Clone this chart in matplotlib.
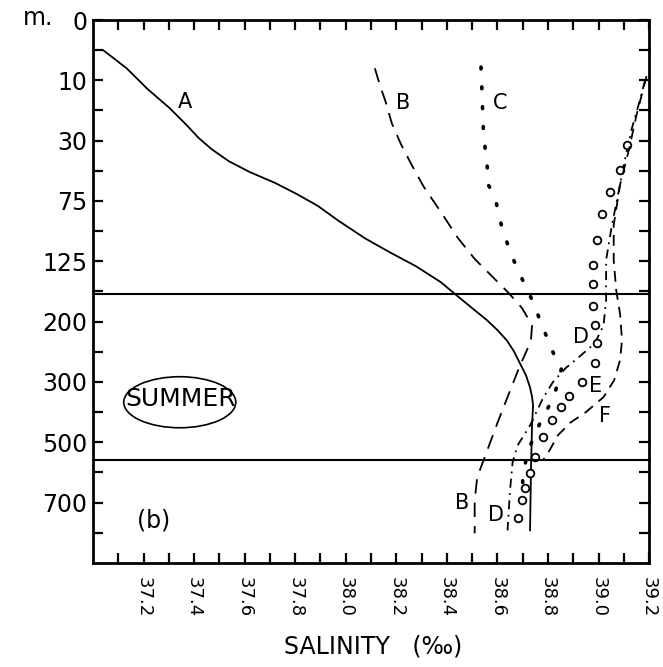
import numpy as np
import matplotlib
matplotlib.use("Agg")
import matplotlib.pyplot as plt
from matplotlib.patches import Ellipse

# depth axis is drawn with even spacing between the labelled depths
depth_ticks = [0, 10, 30, 75, 125, 200, 300, 500, 700]
depth_labels = ["0", "10", "30", "75", "125", "200", "300", "500", "700"]
depth_knots = [-1000, 0, 10, 30, 75, 125, 200, 300, 500, 700, 900, 10000]
idx_knots = [-100, 0, 1, 2, 3, 4, 5, 6, 7, 8, 9, 55.5]

sal_ticks = [37.2, 37.4, 37.6, 37.8, 38.0, 38.2, 38.4, 38.6, 38.8, 39.0, 39.2]

# curve A (solid)
sal_A = [37.04, 37.133, 37.216, 37.303, 37.37, 37.418, 37.469, 37.537,
         37.62, 37.72, 37.806, 37.889, 37.972, 38.075, 38.174, 38.277, 38.376,
         38.428, 38.49, 38.558, 38.60, 38.637, 38.665, 38.689, 38.713, 38.729,
         38.737, 38.741, 38.737, 38.733, 38.729]
dep_A = [5.0, 8.0, 12.9, 19.2, 24.8, 29.1, 36.3, 45.3,
         53.4, 61.5, 69.8, 79, 91.5, 105.8, 117.5, 131, 150.9,
         164.6, 180.6, 198, 214, 231, 249, 269, 289, 318,
         350, 377, 443, 582, 792]

# curve B (long dashes)
sal_B = [38.115, 38.135, 38.158, 38.182, 38.218, 38.261, 38.309, 38.376, 38.444,
         38.51, 38.578, 38.645, 38.697, 38.737, 38.733, 38.717, 38.69, 38.64,
         38.60, 38.56, 38.52, 38.51, 38.51]
dep_B = [8.0, 11.6, 17.2, 24.2, 32.5, 48.2, 64.6, 84, 105.8,
         123, 143.4, 164.5, 183, 206, 229, 247, 272, 350,
         436, 526, 616, 692, 802]

# curve C (dots)
sal_C = [38.535, 38.54, 38.545, 38.56, 38.56, 38.59, 38.62, 38.66, 38.705,
         38.737, 38.784, 38.828, 38.855, 38.824, 38.768, 38.717, 38.70, 38.70]
dep_C = [7.8, 16.5, 28, 50, 61.6, 72, 99, 122, 152,
         173, 214, 259, 275, 348, 437, 536, 626, 758]

# curve D (dash-dot)
sal_D = [39.184, 39.164, 39.13, 39.10, 39.077, 39.053, 39.03, 39.03, 39.02,
         38.985, 38.93, 38.87, 38.82, 38.78, 38.73, 38.68, 38.66, 38.65, 38.64]
dep_D = [10, 16.5, 26.5, 48, 70.6, 95, 124, 173, 206,
         236, 256, 277, 300, 354, 443, 510, 566, 658, 792]

# curve E (open circles)
sal_E = [39.113, 39.085, 39.045, 39.014, 38.994, 38.978, 38.978, 38.98, 38.986,
         38.994, 38.986, 38.934, 38.883, 38.85, 38.816, 38.78, 38.748, 38.729,
         38.71, 38.697, 38.68]
dep_E = [33, 52, 68, 86, 107, 130, 153, 180, 206,
         236, 269, 300, 348, 384, 426, 484, 550, 602,
         652, 692, 752]

# curve F (dashes)
sal_F = [39.19, 39.15, 39.12, 39.085, 39.06, 39.06, 39.07, 39.085, 39.093,
         39.085, 39.062, 39.02, 38.95, 38.89, 38.84, 38.80, 38.78]
dep_F = [9.3, 21.6, 37, 63, 95, 124, 161, 190, 231,
         264, 297, 350, 400, 434, 476, 536, 560]

layer_lines = [166, 560]


def fwd(d):
    return np.interp(d, depth_knots, idx_knots)


def inv(i):
    return np.interp(i, idx_knots, depth_knots)


fig = plt.figure(figsize=(6.63, 6.67), dpi=100)
ax = fig.add_axes([0.1403, 0.156, 0.8387, 0.814])
ax.set_yscale("function", functions=(fwd, inv))
ax.set_xlim(37.0, 39.2)
ax.set_ylim(900, 0)

lw = 1.3
ax.plot(sal_A, dep_A, color="black", lw=lw)
ax.plot(sal_B, dep_B, color="black", lw=lw, linestyle=(0, (8, 5)))
ax.plot(sal_C, dep_C, color="black", lw=2.6, linestyle=(0, (0.5, 5)),
        dash_capstyle="round")
ax.plot(sal_D, dep_D, color="black", lw=lw, linestyle=(0, (5, 3, 1, 3)))
ax.plot(sal_E, dep_E, linestyle="none", marker="o", ms=5.5, mfc="white",
        mec="black", mew=1.3)
ax.plot(sal_F, dep_F, color="black", lw=lw, linestyle=(0, (6, 4)))

for d in layer_lines:
    ax.axhline(d, color="black", lw=1.5)

# curve labels
lab = dict(fontsize=15, ha="center", va="center")
ax.text(37.363, 17.2, "A", **lab)
ax.text(38.225, 17.4, "B", **lab)
ax.text(38.61, 17.4, "C", **lab)
ax.text(38.93, 226, "D", **lab)
ax.text(38.99, 314, "E", **lab)
ax.text(39.025, 414, "F", **lab)
ax.text(38.46, 702, "B", **lab)
ax.text(38.594, 742, "D", **lab)
ax.text(37.24, 758, "(b)", fontsize=17, ha="center", va="center")

ax.text(0.158, 0.302, "SUMMER", transform=ax.transAxes, fontsize=18,
        ha="center", va="center")
ax.add_patch(Ellipse((0.156, 0.296), 0.2015, 0.094, transform=ax.transAxes,
                     fill=False, ec="black", lw=1.2))

# ticks
ax.set_yticks(depth_ticks)
ax.set_yticklabels(depth_labels, fontsize=17, va="center_baseline")
ax.set_yticks(inv(np.arange(0.5, 9, 1.0)), minor=True)
ax.set_xticks(sal_ticks)
ax.set_xticklabels(["%.1f" % s for s in sal_ticks], fontsize=13,
                   rotation=-90, ha="center", va="top")
ax.set_xticks(np.arange(37.1, 39.2, 0.2), minor=True)
ax.tick_params(which="both", direction="in", length=7, width=1.6,
               top=True, right=True)
ax.tick_params(axis="x", which="major", pad=10)
ax.tick_params(axis="y", which="major", pad=4)

for s in ax.spines.values():
    s.set_linewidth(2.0)

fig.text(0.035, 0.963, "m.", fontsize=17, ha="left", va="baseline")
fig.text(0.563, 0.031, "SALINITY   (‰)", fontsize=17, ha="center", va="center")

fig.savefig("out.png", dpi=100)
